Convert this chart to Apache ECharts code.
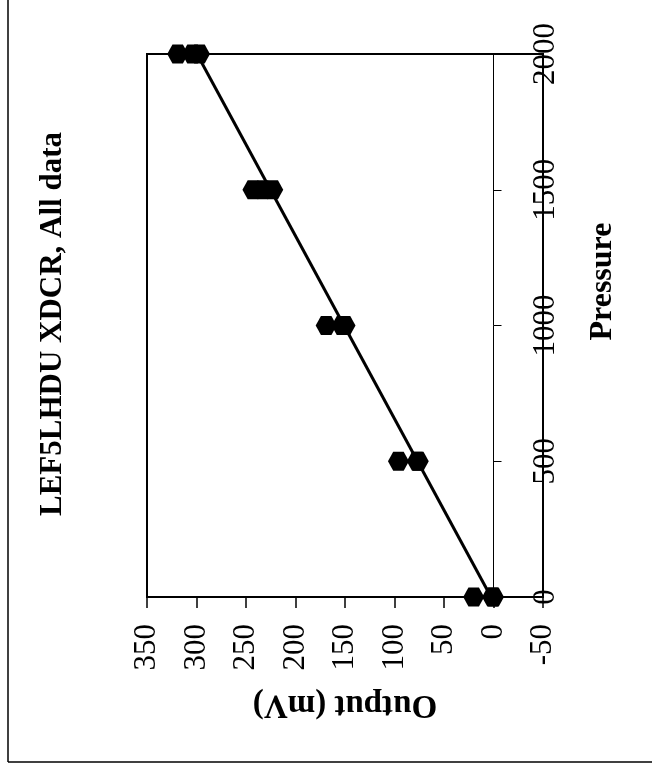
<!DOCTYPE html>
<html>
<head>
<meta charset="utf-8">
<script src="https://cdn.jsdelivr.net/npm/echarts@6/dist/echarts.min.js"></script>
<style>
html,body{margin:0;padding:0;background:#fff;}
#chart{width:652px;height:772px;}
</style>
</head>
<body>
<div id="chart"></div>
<script>
// ---- data ----
var titleText = 'LEF5LHDU XDCR, All data';
var pressureName = 'Pressure';
var outputName = 'Output (mV)';
var pressures = [0, 500, 1000, 1500, 2000];
var runA = [20, 96, 169, 243, 319];
var runB = [1, 77, 153, 233, 304];
var runC = [0, 76, 150, 223, 297];
var fitPressure = [0, 2000];
var fitOutput = [2.5, 299.5];
var outputTicks = {min: -50, max: 350, interval: 50};
var pressureTicks = {min: 0, max: 2000, interval: 500};

var serif = "'Liberation Serif', 'Times New Roman', serif";
var points = [];
[runA, runB, runC].forEach(function (run) {
  run.forEach(function (v, i) { points.push([v, pressures[i]]); });
});
var fitLine = fitPressure.map(function (p, i) { return [fitOutput[i], p]; });
var plain = function (v) { return String(v); };

var chart = echarts.init(document.getElementById('chart'), null, {renderer: 'canvas'});
chart.setOption({
  animation: false,
  backgroundColor: '#fff',
  grid: {
    left: 147, right: 109, top: 54, bottom: 175,
    show: true, borderColor: '#000', borderWidth: 2,
    containLabel: false, outerBoundsMode: 'none'
  },
  xAxis: {
    type: 'value', inverse: true,
    min: outputTicks.min, max: outputTicks.max, interval: outputTicks.interval,
    position: 'bottom',
    axisLine: {show: true, lineStyle: {color: '#000', width: 2}},
    axisTick: {show: true, inside: false, length: 11, lineStyle: {color: '#000', width: 1.5}},
    axisLabel: {rotate: 90, margin: 27, color: '#000', fontSize: 31, fontFamily: serif, formatter: plain},
    splitLine: {show: false},
    name: outputName, nameLocation: 'middle', nameRotate: 180, nameGap: 91,
    nameTextStyle: {color: '#000', fontSize: 33, fontWeight: 'bold', fontFamily: serif}
  },
  yAxis: {
    type: 'value',
    min: pressureTicks.min, max: pressureTicks.max, interval: pressureTicks.interval,
    position: 'right',
    axisLine: {show: true, onZero: true, lineStyle: {color: '#000', width: 1}},
    axisTick: {show: true, inside: false, length: 8, lineStyle: {color: '#000', width: 1}},
    axisLabel: {rotate: 90, margin: -13, color: '#000', fontSize: 31, fontFamily: serif, formatter: plain},
    splitLine: {show: false},
    name: pressureName, nameLocation: 'middle', nameRotate: 90, nameGap: 44,
    nameTextStyle: {color: '#000', fontSize: 32, fontWeight: 'bold', fontFamily: serif,
      padding: [0, 0, 0, 88]}
  },
  graphic: [
    {type: 'text', x: 53, y: 324, rotation: Math.PI / 2, silent: true,
      style: {text: titleText, fill: '#000', font: "bold 31px 'Liberation Serif', 'Times New Roman', serif",
        textAlign: 'center', textVerticalAlign: 'middle'}},
    {type: 'line', silent: true, shape: {x1: 8, y1: 0, x2: 8, y2: 762}, style: {stroke: '#000', lineWidth: 1.5}},
    {type: 'line', silent: true, shape: {x1: 8, y1: 762, x2: 652, y2: 762}, style: {stroke: '#000', lineWidth: 1.5}}
  ],
  series: [
    {
      type: 'line', data: fitLine, symbol: 'none', z: 2,
      lineStyle: {color: '#000', width: 3}
    },
    {
      type: 'scatter', data: points,
      symbol: 'path://M0,10 L5,1 L15,1 L20,10 L15,19 L5,19 Z',
      symbolSize: [21, 19], z: 3,
      itemStyle: {color: '#000', opacity: 1}
    }
  ]
});
</script>
</body>
</html>
